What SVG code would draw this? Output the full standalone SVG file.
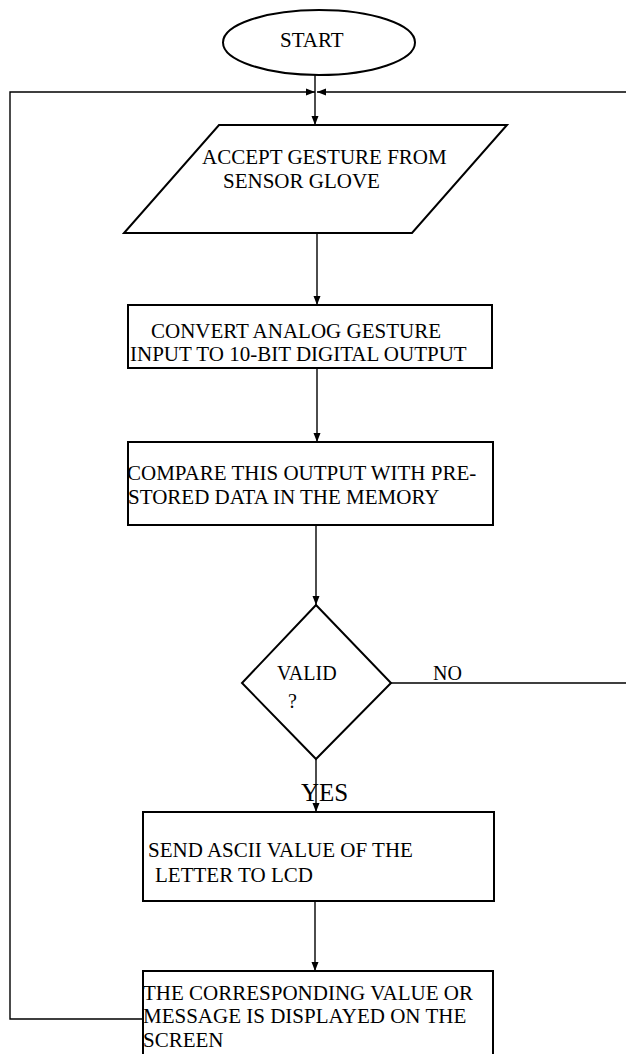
<svg xmlns="http://www.w3.org/2000/svg" width="626" height="1054" viewBox="0 0 626 1054">
<defs>
<style>
.shape{fill:#fff;stroke:#000;stroke-width:2}
.conn{fill:none;stroke:#000;stroke-width:1.4}
text{font-family:"Liberation Serif","Times New Roman",serif;font-size:21px;fill:#000}
</style>
<marker id="arr" markerWidth="10" markerHeight="8" refX="9" refY="4" orient="auto" markerUnits="userSpaceOnUse">
<path d="M0,0.5 L9,4 L0,7.5 Z" fill="#000"/>
</marker>
</defs>
<rect width="626" height="1054" fill="#fff"/>
<g id="connectors">
<path class="conn" d="M315,75 V125" marker-end="url(#arr)"/>
<path class="conn" d="M317,233 V305" marker-end="url(#arr)"/>
<path class="conn" d="M317,368 V442" marker-end="url(#arr)"/>
<path class="conn" d="M316,525 V605" marker-end="url(#arr)"/>
<path class="conn" d="M316,759 V812" marker-end="url(#arr)"/>
<path class="conn" d="M315,901 V971" marker-end="url(#arr)"/>
<path class="conn" d="M143,1019 H10 V92 H315" marker-end="url(#arr)"/>
<path class="conn" d="M391,683 H630 V92 H317" marker-end="url(#arr)"/>
<text x="433" y="680" style="font-size:20px">NO</text>
<text x="301" y="801" style="font-size:25px">YES</text>
</g>
<g id="start">
<ellipse class="shape" cx="319" cy="42.5" rx="96" ry="32.5"/>
<text x="280" y="47">START</text>
</g>
<g id="accept">
<polygon class="shape" points="219,125 507,125 412,233 124,233"/>
<text x="202" y="164">ACCEPT GESTURE FROM</text>
<text x="223" y="188">SENSOR GLOVE</text>
</g>
<g id="convert">
<rect class="shape" x="128" y="305" width="364" height="63"/>
<text x="151" y="338">CONVERT ANALOG GESTURE</text>
<text x="130" y="361">INPUT TO 10-BIT DIGITAL OUTPUT</text>
</g>
<g id="compare">
<rect class="shape" x="128" y="442" width="365" height="83"/>
<text x="127" y="480">COMPARE THIS OUTPUT WITH PRE-</text>
<text x="128" y="504">STORED DATA IN THE MEMORY</text>
</g>
<g id="valid">
<polygon class="shape" points="316,605 391,683 316,759 242,683"/>
<text x="277" y="680" style="font-size:20px">VALID</text>
<text x="288" y="708" style="font-size:20px">?</text>
</g>
<g id="send">
<rect class="shape" x="143" y="812" width="351" height="89"/>
<text x="148" y="857">SEND ASCII VALUE OF THE</text>
<text x="155" y="882">LETTER TO LCD</text>
</g>
<g id="display">
<rect class="shape" x="143" y="971" width="350" height="100"/>
<text x="143" y="1000">THE CORRESPONDING VALUE OR</text>
<text x="143" y="1023">MESSAGE IS DISPLAYED ON THE</text>
<text x="143" y="1047">SCREEN</text>
</g>
</svg>
